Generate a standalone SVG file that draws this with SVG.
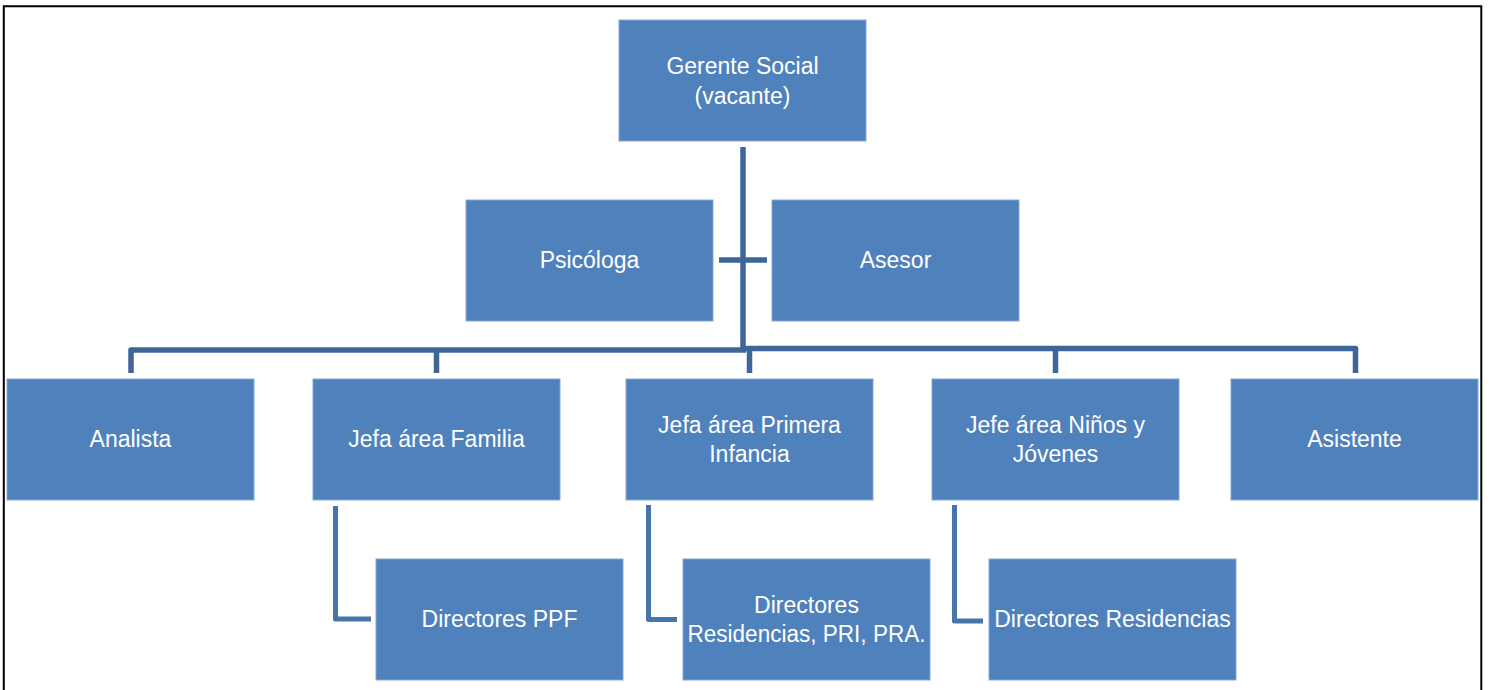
<svg xmlns="http://www.w3.org/2000/svg" width="1490" height="690" viewBox="0 0 1490 690">
<style>
.box{fill:#4F81BD;stroke:#86A6D2;stroke-width:1}
.t{font-family:"Liberation Sans",Arial,sans-serif;font-size:23px;fill:#FFFFFF;text-anchor:middle}
.c{fill:none;stroke:#3F6698;stroke-width:5.5;stroke-linejoin:round}
.e{fill:none;stroke:#4874AC;stroke-width:5;stroke-linejoin:round}
</style>
<rect width="1490" height="690" fill="#FFFFFF"/>
<path d="M3.8,690 V6.3 H1481.3 V690" fill="none" stroke="#000000" stroke-width="2"/>
<g id="connectors">
<path class="c" d="M743,147 V350"/>
<path class="c" d="M719,260 H767"/>
<path class="c" d="M131,373 V350 H746"/>
<path class="c" d="M743,348.5 H1355.5 V373"/>
<path class="c" d="M436.5,350 V373"/>
<path class="c" d="M749.5,349 V373"/>
<path class="c" d="M1055.5,348.5 V373"/>
<path class="e" d="M335.5,506 V619 H371"/>
<path class="e" d="M648.5,505 V619.5 H677"/>
<path class="e" d="M954.5,505 V621 H983"/>
</g>
<g id="gerente"><rect class="box" x="619" y="20" width="247" height="121"/><text class="t" x="742.5" y="74">Gerente Social</text><text class="t" x="742.5" y="104">(vacante)</text></g>
<g id="psicologa"><rect class="box" x="466" y="200" width="247" height="121"/><text class="t" x="589.5" y="268">Psicóloga</text></g>
<g id="asesor"><rect class="box" x="772" y="200" width="247" height="121"/><text class="t" x="895.5" y="268">Asesor</text></g>
<g id="analista"><rect class="box" x="7" y="379" width="247" height="121"/><text class="t" x="130.5" y="447">Analista</text></g>
<g id="jefa-familia"><rect class="box" x="313" y="379" width="247" height="121"/><text class="t" x="436.5" y="447">Jefa área Familia</text></g>
<g id="jefa-primera-infancia"><rect class="box" x="626" y="379" width="247" height="121"/><text class="t" x="749.5" y="433">Jefa área Primera</text><text class="t" x="749.5" y="462">Infancia</text></g>
<g id="jefe-ninos"><rect class="box" x="932" y="379" width="247" height="121"/><text class="t" x="1055.5" y="433">Jefe área Niños y</text><text class="t" x="1055.5" y="462">Jóvenes</text></g>
<g id="asistente"><rect class="box" x="1231" y="379" width="247" height="121"/><text class="t" x="1354.5" y="447">Asistente</text></g>
<g id="directores-ppf"><rect class="box" x="376" y="559" width="247" height="121"/><text class="t" x="499.5" y="627">Directores PPF</text></g>
<g id="directores-pri"><rect class="box" x="683" y="559" width="247" height="121"/><text class="t" x="806.5" y="613">Directores</text><text class="t" x="806.5" y="642" textLength="238" lengthAdjust="spacingAndGlyphs">Residencias, PRI, PRA.</text></g>
<g id="directores-residencias"><rect class="box" x="989" y="559" width="247" height="121"/><text class="t" x="1112.5" y="627">Directores Residencias</text></g>
</svg>
